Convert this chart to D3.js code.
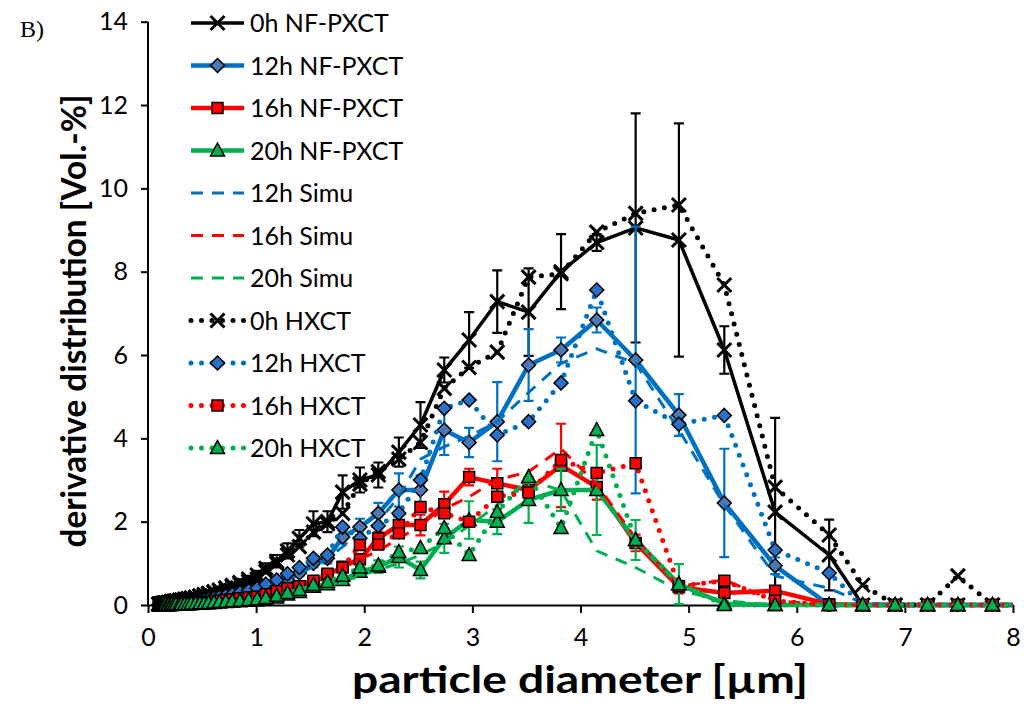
<!doctype html>
<html lang="en">
<head>
<meta charset="utf-8">
<title>derivative distribution</title>
<script src="https://d3js.org/d3.v7.min.js"></script>
<style type="text/css">
  body { margin: 0; background: #fff; }
  svg text { font-family: Lato, "Liberation Sans", sans-serif; }
</style>
</head>
<body>
<script type="text/javascript">

// particle diameter grid [µm] (shared by all series)
var diam = [0.10,0.11,0.12,0.13,0.14,0.15,0.16,0.18,
            0.19,0.21,0.22,0.24,0.26,0.29,0.31,0.34,0.37,0.40,
            0.44,0.48,0.52,0.56,0.61,0.66,0.72,0.78,0.85,0.93,
            1.01,1.09,1.19,1.29,1.40,1.53,1.66,1.80,1.96,2.13,
            2.32,2.52,2.74,2.97,3.23,3.52,3.82,4.15,4.51,4.91,
            5.33,5.80,6.30,6.61,6.91,7.21,7.49,7.81,8.10];

var nf0 = [0.02,0.02,0.03,0.03,0.04,0.04,0.05,0.05,
           0.06,0.07,0.08,0.09,0.10,0.11,0.12,0.14,0.15,0.17,
           0.19,0.22,0.25,0.28,0.32,0.36,0.41,0.47,0.54,0.62,
           0.72,0.88,1.05,1.30,1.60,1.95,2.00,2.71,3.00,3.12,
           3.67,4.32,5.64,6.36,7.28,7.03,8.00,8.70,9.05,8.76,
           6.12,2.23,1.20,0,0,0,0,0,0];
var nf0Err = [0.01,0.01,0.01,0.01,0.01,0.01,0.01,0.01,
              0.01,0.01,0.01,0.02,0.02,0.02,0.02,0.02,0.02,0.03,
              0.03,0.03,0.04,0.04,0.05,0.05,0.06,0.07,0.08,0.08,
              0.10,0.12,0.15,0.18,0.20,0.30,0.25,0.40,0.30,0.30,
              0.35,0.55,0.30,0.67,0.75,1.05,0.90,0.20,2.75,2.80,
              0.57,2.26,0.85,0,0,0,0,0,0];

var nf12 = [0,0,0.01,0.01,0.01,0.01,0.01,0.02,
            0.02,0.02,0.02,0.03,0.03,0.04,0.04,0.05,0.06,0.07,
            0.08,0.09,0.10,0.12,0.14,0.16,0.19,0.22,0.25,0.28,
            0.32,0.40,0.50,0.60,0.77,1.00,1.12,1.63,1.87,2.20,
            2.76,2.76,4.20,3.90,4.40,5.76,6.12,6.84,5.88,4.56,
            2.45,0.94,0,0,0,0,0,0,0];
var nf12Err = [0,0,0,0,0,0,0,0,
               0,0,0,0,0,0,0.01,0.01,0.01,0.01,
               0.01,0.01,0.01,0.02,0.02,0.02,0.02,0.03,0.03,0.03,
               0.03,0.04,0.05,0.06,0.08,0.10,0.12,0.15,0.20,0.25,
               0.40,0.35,0.60,0.35,0.95,0.86,0.30,0.30,3.20,0.50,
               1.30,0.20,0,0,0,0,0,0,0];

var nf16 = [0,0,0,0,0,0,0.01,0.01,
            0.01,0.01,0.01,0.01,0.02,0.02,0.02,0.03,0.03,0.04,
            0.04,0.05,0.06,0.07,0.08,0.09,0.11,0.13,0.15,0.17,
            0.19,0.24,0.31,0.38,0.41,0.53,0.72,0.92,1.10,1.60,
            1.92,1.92,2.42,3.07,2.92,2.76,3.35,2.83,1.49,0.43,
            0.29,0.34,0.02,0,0,0,0,0,0];
var nf16Err = [0,0,0,0,0,0,0,0,
               0,0,0,0,0,0,0,0,0,0,
               0.01,0.01,0.01,0.01,0.01,0.01,0.02,0.02,0.02,0.02,
               0.03,0.03,0.04,0.05,0.05,0.06,0.08,0.10,0.12,0.15,
               0.25,0.25,0.30,0.20,0.35,0.30,1.00,0.30,0.20,0.15,
               0.10,0.10,0,0,0,0,0,0,0];

var nf20 = [0,0,0,0,0,0,0,0,
            0,0,0.01,0.01,0.01,0.01,0.01,0.02,0.02,0.02,
            0.03,0.03,0.04,0.04,0.05,0.06,0.07,0.08,0.09,0.10,
            0.11,0.14,0.18,0.25,0.31,0.44,0.50,0.60,0.80,0.92,
            1.15,0.84,1.60,2.04,2.00,2.52,2.76,2.76,1.56,0.50,
            0.03,0,0,0,0,0,0,0,0];
var nf20Err = [0,0,0,0,0,0,0,0,
               0,0,0,0,0,0,0,0,0,0,
               0.01,0.01,0.01,0.01,0.01,0.01,0.01,0.02,0.02,0.02,
               0.02,0.03,0.03,0.04,0.05,0.06,0.08,0.10,0.12,0.15,
               0.25,0.20,0.35,0.45,0.30,0.55,0.50,1.08,0.48,0.48,
               0.05,0,0,0,0,0,0,0,0];

var sim12 = [0,0,0,0.01,0.01,0.01,0.01,0.01,
             0.02,0.02,0.02,0.03,0.03,0.04,0.04,0.05,0.06,0.07,
             0.08,0.09,0.11,0.12,0.14,0.17,0.20,0.23,0.27,0.31,
             0.36,0.43,0.52,0.62,0.75,0.92,1.10,1.40,1.70,2.00,
             2.60,3.50,3.80,4.05,4.40,5.10,5.80,6.15,5.80,4.20,
             2.40,0.70,0.40,0.05,0,0,0,0,0];
var sim16 = [0,0,0,0,0,0,0,0.01,
             0.01,0.01,0.01,0.01,0.02,0.02,0.02,0.03,0.03,0.04,
             0.04,0.05,0.06,0.07,0.08,0.10,0.11,0.13,0.15,0.18,
             0.21,0.26,0.32,0.40,0.50,0.62,0.76,0.90,1.10,1.30,
             1.60,1.90,2.30,2.60,3.00,3.20,3.75,2.90,1.60,0.45,
             0.60,0.10,0,0,0,0,0,0,0];
var sim20 = [0,0,0,0,0,0,0,0,
             0,0,0,0.01,0.01,0.01,0.01,0.01,0.02,0.02,
             0.02,0.03,0.03,0.04,0.05,0.06,0.07,0.08,0.10,0.12,
             0.14,0.17,0.21,0.26,0.32,0.40,0.48,0.55,0.70,0.85,
             1.00,1.20,1.50,1.90,2.40,3.00,2.75,1.30,0.90,0.35,
             0.10,0,0,0,0,0,0,0,0];

var hx0 = [0.02,0.02,0.03,0.03,0.04,0.04,0.05,0.05,
           0.06,0.07,0.08,0.09,0.10,0.11,0.12,0.13,0.15,0.16,
           0.18,0.21,0.24,0.27,0.30,0.34,0.39,0.44,0.50,0.56,
           0.62,0.80,1.00,1.20,1.40,1.75,1.95,2.20,2.90,3.20,
           3.50,3.90,5.20,5.70,6.07,7.87,7.95,8.95,9.40,9.60,
           7.68,2.83,1.68,0.48,0,0,0.70,0,0];
var hx12 = [0,0.01,0.01,0.01,0.01,0.01,0.02,0.02,
            0.02,0.03,0.03,0.04,0.04,0.05,0.05,0.06,0.07,0.08,
            0.09,0.10,0.12,0.14,0.16,0.19,0.22,0.26,0.30,0.35,
            0.40,0.50,0.60,0.75,0.90,1.12,1.20,1.87,1.60,1.90,
            2.20,3.00,4.72,4.92,4.08,4.40,5.33,7.56,4.90,4.34,
            4.55,1.32,0.77,0,0,0,0,0,0];
var hx16 = [0,0,0,0,0,0.01,0.01,0.01,
            0.01,0.01,0.01,0.02,0.02,0.02,0.03,0.03,0.03,0.04,
            0.05,0.05,0.06,0.07,0.09,0.10,0.12,0.14,0.16,0.18,
            0.20,0.26,0.33,0.40,0.45,0.58,0.75,0.90,1.44,1.45,
            1.72,2.35,2.20,2.00,2.60,2.70,3.48,3.17,3.40,0.45,
            0.58,0.10,0,0,0,0,0,0,0];
var hx20 = [0,0,0,0,0,0,0,0,
            0,0,0.01,0.01,0.01,0.01,0.02,0.02,0.02,0.03,
            0.03,0.04,0.04,0.05,0.06,0.07,0.08,0.09,0.10,0.12,
            0.14,0.17,0.22,0.29,0.36,0.48,0.55,0.70,0.90,0.95,
            1.27,1.37,1.85,1.20,2.23,3.07,1.85,4.20,1.56,0.50,
            0,0,0,0,0,0,0,0,0];

var xTicks = [0,1,2,3,4,5,6,7,8];
var yTicks = [0,2,4,6,8,10,12,14];

var blue = "#0070c0", red = "#ff0000", green = "#00b050";

var series = [
  {name:"0h NF-PXCT",  y:nf0,  err:nf0Err,  color:"#000", style:"solid", marker:"x",       mfill:"none"},
  {name:"12h NF-PXCT", y:nf12, err:nf12Err, color:blue,   style:"solid", marker:"diamond", mfill:"#4a78b4"},
  {name:"16h NF-PXCT", y:nf16, err:nf16Err, color:red,    style:"solid", marker:"square",  mfill:red},
  {name:"20h NF-PXCT", y:nf20, err:nf20Err, color:green,  style:"solid", marker:"triangle",mfill:green},
  {name:"12h Simu",    y:sim12, color:blue,  style:"dash"},
  {name:"16h Simu",    y:sim16, color:red,   style:"dash"},
  {name:"20h Simu",    y:sim20, color:green, style:"dash"},
  {name:"0h HXCT",     y:hx0,  color:"#000", style:"dot", marker:"x",        mfill:"none"},
  {name:"12h HXCT",    y:hx12, color:blue,   style:"dot", marker:"diamond",  mfill:"#2a70c4"},
  {name:"16h HXCT",    y:hx16, color:red,    style:"dot", marker:"square",   mfill:red},
  {name:"20h HXCT",    y:hx20, color:green,  style:"dot", marker:"triangle", mfill:green}
];

var width = 1024, height = 722;
var x = d3.scaleLinear().domain([0, 8]).range([148, 1013]);
var y = d3.scaleLinear().domain([0, 14]).range([605, 21.7]);

var svg = d3.select("body").append("svg")
  .attr("width", width).attr("height", height);

svg.append("clipPath").attr("id", "plot")
  .append("rect").attr("x", 140).attr("y", 0).attr("width", 1013 - 140).attr("height", 612);

// axes
var xAxis = svg.append("g").attr("transform", "translate(0,605)")
  .call(d3.axisBottom(x).tickValues(xTicks).tickSize(8).tickSizeOuter(0).tickFormat(d3.format("d")));
var yAxis = svg.append("g").attr("transform", "translate(148,0)")
  .call(d3.axisLeft(y).tickValues(yTicks).tickSize(7).tickSizeOuter(0).tickFormat(d3.format("d")));
[xAxis, yAxis].forEach(function (g) {
  g.select(".domain").attr("stroke", "#000").attr("stroke-width", 2);
  g.selectAll(".tick line").attr("stroke", "#000").attr("stroke-width", 2);
  g.selectAll(".tick text").attr("fill", "#000").style("font-size", "25px")
    .style("font-family", "Lato, sans-serif");
});
xAxis.selectAll(".tick text").attr("dy", "1.2em");
yAxis.selectAll(".tick text").attr("x", -20);
yAxis.select(".domain").attr("d", "M0," + y(14) + "V605");

svg.append("text").attr("x", 580).attr("y", 693).attr("text-anchor", "middle")
  .attr("textLength", 456).attr("lengthAdjust", "spacingAndGlyphs")
  .style("font-size", "38px").style("font-weight", "bold").text("particle diameter [µm]");
svg.append("text").attr("transform", "translate(86,321) rotate(-90)").attr("text-anchor", "middle")
  .attr("textLength", 453).attr("lengthAdjust", "spacingAndGlyphs")
  .style("font-size", "34px").style("font-weight", "bold").text("derivative distribution [Vol.-%]");
svg.append("text").attr("x", 20).attr("y", 37).style("font-family", "'Liberation Serif', serif")
  .style("font-size", "24px").text("B)");

function markerPath(type) {
  if (type === "x") return "M-7,-7L7,7M-7,7L7,-7";
  if (type === "diamond") return "M0,-7L7,0L0,7L-7,0Z";
  if (type === "square") return "M-5.5,-5.5H5.5V5.5H-5.5Z";
  if (type === "triangle") return "M0,-7.5L7,5.5H-7Z";
  return "";
}

function styleLine(sel, s) {
  sel.attr("fill", "none").attr("stroke", s.color);
  if (s.style === "solid") sel.attr("stroke-width", s.color === "#000" ? 3.5 : 4.5).attr("stroke-linejoin", "round");
  if (s.style === "dash") sel.attr("stroke-width", 3).attr("stroke-dasharray", "12,9");
  if (s.style === "dot") sel.attr("stroke-width", 5).attr("stroke-dasharray", "0,10.5").attr("stroke-linecap", "round");
  return sel;
}

function drawMarker(g, s, px, py) {
  var m = g.append("path").attr("d", markerPath(s.marker))
    .attr("transform", "translate(" + px + "," + py + ")");
  if (s.marker === "x") m.attr("stroke", "#000").attr("stroke-width", 3).attr("fill", "none");
  else m.attr("fill", s.mfill).attr("stroke", "#000").attr("stroke-width", 1.5);
}

var plot = svg.append("g").attr("clip-path", "url(#plot)");
var line = d3.line().x(function (d) { return x(d[0]); }).y(function (d) { return y(d[1]); });

series.forEach(function (s) {
  var pts = diam.map(function (d, i) { return [d, s.y[i]]; });
  var g = plot.append("g");
  styleLine(g.append("path").datum(pts).attr("d", line), s);
  if (s.err) {
    pts.forEach(function (p, i) {
      var e = s.err[i];
      if (!e) return;
      var px = x(p[0]), lo = y(Math.max(0, p[1] - e)), hi = y(p[1] + e);
      g.append("path")
        .attr("d", "M" + px + "," + lo + "V" + hi + "M" + (px - 5) + "," + hi + "H" + (px + 5) +
                   "M" + (px - 5) + "," + lo + "H" + (px + 5))
        .attr("stroke", s.color).attr("stroke-width", 2.2).attr("fill", "none");
    });
  }
  if (s.marker) {
    pts.forEach(function (p) { drawMarker(g, s, x(p[0]), y(p[1])); });
  }
});

// legend
var legend = svg.append("g");
series.forEach(function (s, i) {
  var ly = 23 + i * 42.5;
  var row = legend.append("g");
  styleLine(row.append("path").attr("d", "M191," + ly + "H244"), s);
  if (s.marker) drawMarker(row, s, 217.5, ly);
  row.append("text").attr("x", 250).attr("y", ly).attr("dy", "0.36em")
    .style("font-size", "25px").text(s.name);
});

</script>
</body>
</html>
